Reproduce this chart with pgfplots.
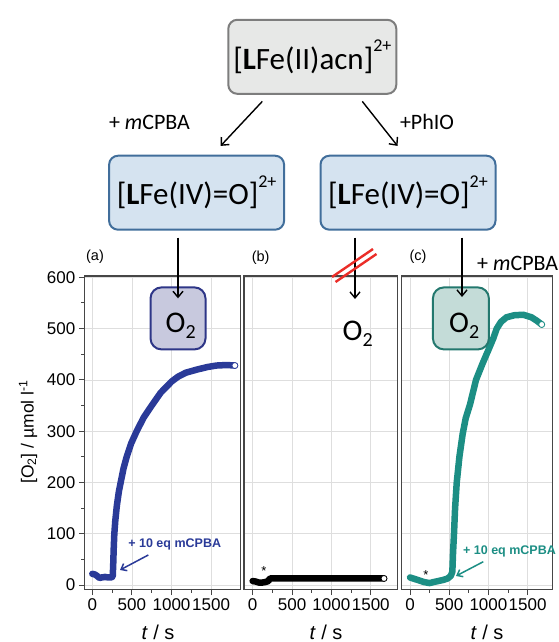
\documentclass[border=0pt]{standalone}
\usepackage{fontspec}
\setmainfont{Liberation Sans}
\newfontfamily\cali{Carlito}
\usepackage{pgfplots}
\pgfplotsset{compat=1.18}
\usetikzlibrary{arrows.meta}

\definecolor{blueA}{RGB}{42,58,152}
\definecolor{tealC}{RGB}{28,142,132}
\definecolor{axgray}{RGB}{70,70,70}
\definecolor{gridgray}{RGB}{222,222,222}
\definecolor{topfill}{RGB}{231,232,231}
\definecolor{topdraw}{RGB}{125,125,125}
\definecolor{midfill}{RGB}{213,227,240}
\definecolor{middraw}{RGB}{65,110,155}
\definecolor{oafill}{RGB}{200,201,222}
\definecolor{oadraw}{RGB}{46,54,135}
\definecolor{ocfill}{RGB}{196,220,216}
\definecolor{ocdraw}{RGB}{35,120,110}
\definecolor{strike}{RGB}{235,45,40}

\pgfplotsset{panel/.style={
    scale only axis, height=313.5pt,
    ymin=-8.5, ymax=602.5,
    axis line style={axgray, line width=1.1pt},
    tick pos=left, tick align=outside,
    xtick={0,500,1000,1500}, minor x tick num=1,
    ytick={0,100,...,600}, minor y tick num=1,
    major tick length=5.5pt, minor tick length=3.2pt,
    tick style={axgray, line width=1pt},
    grid=major, major grid style={gridgray, line width=0.7pt},
    ticklabel style={font=\fontsize{17}{19}\selectfont},
    /pgf/number format/assume math mode=true,
    /pgf/number format/1000 sep={},
  },
  band/.style={line width=6.5pt, line join=round, line cap=round},
  endmark/.style={only marks, mark=*, mark size=3pt, mark options={fill=white, draw=#1, line width=0.8pt}},
}

\begin{document}
\begin{tikzpicture}
\useasboundingbox (0pt,0pt) rectangle (558pt,-642pt);

% (a) mCPBA
\begin{axis}[panel, at={(84.3pt,-589.5pt)}, anchor=south west,
    width=156.2pt, xmin=-101, xmax=1871]
\addplot[blueA, band] coordinates {
 (0,22) (30,21) (60,18) (90,14) (120,15) (160,16) (200,15) (240,15) (258,17)
 (264,40) (270,70) (278,100) (290,125) (310,155) (335,182) (358,200) (395,228)
 (434,250) (490,276) (560,300) (650,327) (750,350) (863,375) (1002,397)
 (1080,406) (1180,414) (1318,420) (1450,425) (1565,428) (1700,429) (1800,428)
};
\addplot[endmark=blueA] coordinates {(1800,428)};
\end{axis}

% (b) PhIO
\begin{axis}[panel, at={(244pt,-589.5pt)}, anchor=south west,
    width=153.3pt, xmin=-110, xmax=1837,
    yticklabels={}, ytick style={draw=none}]
\addplot[black, band] coordinates {
 (0,8) (40,7) (80,5) (120,5) (160,6) (200,8) (210,11) (222,13) (300,13)
 (600,13) (1000,13) (1400,13) (1668,13)
};
\addplot[endmark=black] coordinates {(1668,13)};
\node[font=\fontsize{13}{13}\selectfont] at (axis cs:144,27) {*};
\end{axis}

% (c) PhIO then mCPBA
\begin{axis}[panel, at={(401.7pt,-589.5pt)}, anchor=south west,
    width=150.6pt, xmin=-106, xmax=1815,
    yticklabels={}, ytick style={draw=none}]
\addplot[tealC, band] coordinates {
 (0,15) (60,12) (120,9) (180,6) (250,4) (300,6) (360,8) (420,10) (480,13)
 (520,18) (540,26) (548,60) (561,100) (575,150) (596,200) (630,250) (672,295)
 (710,325) (765,352) (842,400) (920,430) (999,458) (1060,480) (1106,500) (1160,513)
 (1230,522) (1330,526) (1445,527) (1550,522) (1620,515) (1680,508)
};
\addplot[endmark=tealC] coordinates {(1680,508)};
\node[font=\fontsize{13}{13}\selectfont] at (axis cs:204,20) {*};
\end{axis}

\begin{scope}[x=1pt,y=-1pt]
% scheme boxes
\node[draw=topdraw, fill=topfill, line width=2pt, rounded corners=9pt,
  minimum width=168pt, minimum height=74pt, inner sep=0pt] at (312.3,56.8)
  {\cali\fontsize{31}{31}\selectfont [\textbf{L}Fe(II)acn]\raisebox{0.55em}{\fontsize{18}{18}\selectfont 2+}};
\node[draw=middraw, fill=midfill, line width=2pt, rounded corners=9pt,
  minimum width=175pt, minimum height=74pt, inner sep=0pt] at (196.6,192.7)
  {\cali\fontsize{31}{31}\selectfont [\textbf{L}Fe(IV)=O]\raisebox{0.55em}{\fontsize{18}{18}\selectfont 2+}};
\node[draw=middraw, fill=midfill, line width=2pt, rounded corners=9pt,
  minimum width=175pt, minimum height=74pt, inner sep=0pt] at (408,192.7)
  {\cali\fontsize{31}{31}\selectfont [\textbf{L}Fe(IV)=O]\raisebox{0.55em}{\fontsize{18}{18}\selectfont 2+}};

\draw[line width=1.4pt, -{Straight Barb[length=6pt,width=11pt]}] (262.3,101.4) -- (220.6,145.9);
\draw[line width=1.4pt, -{Straight Barb[length=6pt,width=11pt]}] (362.3,101.4) -- (397.5,145.9);
\node[font=\cali\fontsize{22}{22}\selectfont] at (149.5,122) {+ \textit{m}CPBA};
\node[font=\cali\fontsize{22}{22}\selectfont] at (427,122) {+PhIO};
\node[font=\cali\fontsize{22}{22}\selectfont, anchor=west, inner sep=0pt] at (477,263) {+ \textit{m}CPBA};

% O2 boxes
\node[draw=oadraw, fill=oafill, line width=2pt, rounded corners=11pt,
  minimum width=55pt, minimum height=62pt] at (178,318.4) {};
\node[draw=ocdraw, fill=ocfill, line width=2pt, rounded corners=11pt,
  minimum width=56pt, minimum height=62pt] at (460.9,318.4) {};
\node[anchor=base west, inner sep=0pt] at (165.5,332.5)
  {\cali\fontsize{30}{30}\selectfont O\raisebox{-6pt}{\fontsize{20}{20}\selectfont 2}};
\node[anchor=base west, inner sep=0pt] at (342.5,340.5)
  {\cali\fontsize{30}{30}\selectfont O\raisebox{-6pt}{\fontsize{20}{20}\selectfont 2}};
\node[anchor=base west, inner sep=0pt] at (449,332.5)
  {\cali\fontsize{30}{30}\selectfont O\raisebox{-6pt}{\fontsize{20}{20}\selectfont 2}};

\draw[line width=1.4pt, -{Straight Barb[length=6pt,width=10pt]}] (178,237.7) -- (178,298.3);
\draw[line width=1.4pt, -{Straight Barb[length=6pt,width=10pt]}] (355,237.7) -- (355,299);
\draw[line width=1.4pt, -{Straight Barb[length=6pt,width=10pt]}] (462,237.7) -- (462,297);
\draw[strike, line width=2.4pt] (332,277) -- (373,249);
\draw[strike, line width=2.4pt] (335.5,282) -- (376.5,254);

% panel letters
\node[font=\fontsize{14.5}{14.5}\selectfont] at (95,257) {(a)};
\node[font=\fontsize{14.5}{14.5}\selectfont] at (260.7,257.3) {(b)};
\node[font=\fontsize{14.5}{14.5}\selectfont] at (418,257) {(c)};

% annotations
\node[font=\bfseries\fontsize{12.5}{12.5}\selectfont, text=blueA] at (174.7,544) {+ 10 eq mCPBA};
\draw[blueA, line width=1.5pt, -{Straight Barb[length=5pt,width=8pt]}] (148.3,555) -- (120,570);
\node[font=\bfseries\fontsize{12.5}{12.5}\selectfont, text=tealC] at (509.5,551) {+ 10 eq mCPBA};
\draw[tealC, line width=1.5pt, -{Straight Barb[length=5pt,width=8pt]}] (483.3,561.7) -- (456,576);

% axis titles
\node[rotate=90, font=\fontsize{17.5}{17.5}\selectfont] at (28,432)
  {[O\textsubscript{2}] / µmol l\textsuperscript{-1}};
\node[anchor=base, font=\fontsize{20}{20}\selectfont] at (158,639) {\textit{t} / s};
\node[anchor=base, font=\fontsize{20}{20}\selectfont] at (326,639) {\textit{t} / s};
\node[anchor=base, font=\fontsize{20}{20}\selectfont] at (487,639) {\textit{t} / s};
\end{scope}
\end{tikzpicture}
\end{document}
